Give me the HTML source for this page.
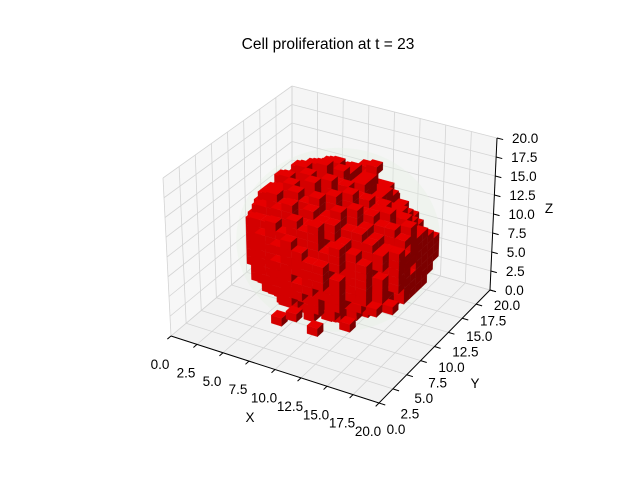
<!DOCTYPE html>
<html><head><meta charset="utf-8"><style>
body{margin:0;background:#fff}
svg{display:block}
text{font-family:"Liberation Sans","DejaVu Sans",sans-serif;fill:#000}
</style></head><body>
<svg id="chart" width="640" height="480" viewBox="0 0 640 480" xmlns="http://www.w3.org/2000/svg">
<rect width="640" height="480" fill="#fff"/>
<text x="328" y="49" text-anchor="middle" font-size="15.5">Cell proliferation at t = 23</text>
<g id="panes"></g>
<g id="cells"></g>
<g id="axes"></g>
</svg>
<script>
// tick values
const ticks = [0, 2.5, 5, 7.5, 10, 12.5, 15, 17.5, 20];
const tickLabels = ["0.0","2.5","5.0","7.5","10.0","12.5","15.0","17.5","20.0"];
// grid origin of the data arrays below
const gridX0 = 3;
const gridY0 = 3;
// top of each occupied (x,y) column (rows = y, cols = x); 0 = empty
const colTop = [
[0,0,0,0,0,13,14,13,12,12,0,0,0,0,0],
[0,0,0,13,15,14,16,15,16,13,14,0,0,0,0],
[0,0,14,15,16,17,15,17,16,16,14,13,12,0,0],
[0,13,15,17,16,18,17,18,16,17,15,15,14,13,0],
[0,14,16,17,18,17,19,17,18,16,17,15,15,14,13],
[12,15,16,18,17,19,17,19,17,18,16,16,15,15,14],
[13,15,17,17,19,18,19,18,18,17,17,16,16,14,15],
[13,14,16,18,17,19,18,19,17,18,16,16,15,15,14],
[12,15,16,17,18,17,19,18,17,18,16,15,15,14,13],
[0,14,15,17,16,18,17,18,17,16,16,14,14,13,12],
[0,12,15,15,17,16,17,16,17,15,15,14,13,0,11],
[0,0,13,15,15,16,15,17,15,15,13,12,0,0,0],
[0,0,0,12,14,14,15,14,14,13,0,0,0,0,0],
[0,0,0,0,0,12,13,12,0,0,0,0,0,0,0]];
// bottom of each column
const colBottom = [
[0,0,0,0,0,8,6,7,8,9,0,0,0,0,0],
[0,0,0,7,6,5,5,6,4,7,6,0,0,0,0],
[0,0,6,5,5,4,4,3,5,4,6,7,7,0,0],
[0,7,5,4,3,3,3,3,4,3,5,5,6,7,0],
[0,6,5,3,3,2,2,3,2,4,3,5,5,6,7],
[8,6,4,3,2,2,3,1,3,2,4,4,5,5,6],
[7,5,4,2,2,3,1,3,2,3,2,5,4,5,6],
[8,5,4,3,2,1,3,2,2,3,3,4,5,5,6],
[8,6,4,3,3,2,2,3,3,2,4,5,5,6,6],
[0,6,5,4,3,3,2,3,3,4,4,5,6,6,7],
[0,7,5,4,4,3,4,3,4,4,5,6,7,0,8],
[0,0,6,5,4,5,4,4,5,5,6,7,0,0,0],
[0,0,0,7,6,6,5,6,6,7,0,0,0,0,0],
[0,0,0,0,0,8,7,8,0,0,0,0,0,0,0]];
// internal holes (x,y,z) carved from the columns
const holes = [[6,5,14],[9,4,12],[12,5,13],[5,8,10],[8,6,8],[13,7,11],[11,9,6],[7,12,7],[14,10,9],[10,3,9],[4,10,6],[12,12,5],[15,8,7],[6,7,5],[13,4,10],[15,5,12],[16,9,11],[14,6,6],[16,11,8],[11,4,4],[15,7,14],[8,3,11],[12,3,7],[10,5,15],[17,9,9],[17,7,7],[16,6,10],[17,8,12],[17,10,13],[16,7,13]];
// isolated cells sticking out of the cluster
const extras = [[9,9,19],[12,12,18],[6,8,17],[10,2,5],[8,3,3],[14,4,4],[12,2,4],[17,6,6],[16,5,6]];

const SVGNS="http://www.w3.org/2000/svg";
const C={ "000":[171,336],"100":[379,403],"010":[292,234],"110":[490,290],
          "001":[163,178],"101":[381,241],"011":[292,86],"111":[497,138]};
function P(x,y,z){
  const u=x/20,v=y/20,w=z/20;let px=0,py=0;
  for(const a of [0,1])for(const b of [0,1])for(const c of [0,1]){
    const wt=(a?u:1-u)*(b?v:1-v)*(c?w:1-w);const p=C[""+a+b+c];px+=wt*p[0];py+=wt*p[1];}
  return [px,py];
}
function mk(tag,attrs,parent){const e=document.createElementNS(SVGNS,tag);for(const k in attrs)e.setAttribute(k,attrs[k]);parent.appendChild(e);return e;}
function poly(pts,fill,parent){return mk("polygon",{points:pts.map(p=>p.map(v=>v.toFixed(1)).join(",")).join(" "),fill:fill,stroke:fill,"stroke-width":0.3},parent);}
function line(a,b,stroke,w,parent){return mk("line",{x1:a[0],y1:a[1],x2:b[0],y2:b[1],stroke:stroke,"stroke-width":w},parent);}

const panes=document.getElementById("panes");
let e;
e=poly([P(0,0,0),P(20,0,0),P(20,20,0),P(0,20,0)],"#f2f2f2",panes);


e=poly([P(0,0,0),P(0,20,0),P(0,20,20),P(0,0,20)],"#f7f7f7",panes);


e=poly([P(0,20,0),P(20,20,0),P(20,20,20),P(0,20,20)],"#f5f5f5",panes);


const gc="#d4d4d4";
for(const t of ticks){
  e=line(P(t,0,0),P(t,20,0),gc,0.8,panes);
  e=line(P(0,t,0),P(20,t,0),gc,0.8,panes);
  e=line(P(0,t,0),P(0,t,20),gc,0.8,panes);
  e=line(P(0,0,t),P(0,20,t),gc,0.8,panes);
  e=line(P(t,20,0),P(t,20,20),gc,0.8,panes);
  e=line(P(0,20,t),P(20,20,t),gc,0.8,panes);
}
// faint green halo
const cen=P(10.5,10,10);
e=mk("ellipse",{cx:cen[0],cy:cen[1],rx:102,ry:92,fill:"#e4f2e1",opacity:0.35},panes);



// build voxel set
const occ=new Set();const key=(x,y,z)=>x+","+y+","+z;
for(let r=0;r<colTop.length;r++)for(let c=0;c<colTop[r].length;c++){
  const top=colTop[r][c],bot=colBottom[r][c];if(!top)continue;
  for(let z=bot;z<top;z++)occ.add(key(gridX0+c,gridY0+r,z));
}
for(const h of holes)occ.delete(key(h[0],h[1],h[2]));
for(const v of extras)occ.add(key(v[0],v[1],v[2]));
const vox=[...occ].map(s=>s.split(",").map(Number));
vox.sort((a,b)=>(a[0]*0.5-a[1]*0.87+a[2]*0.6)-(b[0]*0.5-b[1]*0.87+b[2]*0.6));
const cells=document.getElementById("cells");
for(const [x,y,z] of vox){
  const g=mk("g",{},cells);
  
  
  if(!occ.has(key(x,y-1,z))) poly([P(x,y,z),P(x+1,y,z),P(x+1,y,z+1),P(x,y,z+1)],"#d40000",g);
  if(!occ.has(key(x+1,y,z))) poly([P(x+1,y,z),P(x+1,y+1,z),P(x+1,y+1,z+1),P(x+1,y,z+1)],"#7c0000",g);
  if(!occ.has(key(x,y,z+1))) poly([P(x,y,z+1),P(x+1,y,z+1),P(x+1,y+1,z+1),P(x,y+1,z+1)],"#e60000",g);
}

// axes
const ax=document.getElementById("axes");
e=line(P(0,0,0),P(20,0,0),"#000",1,ax);
e=line(P(20,0,0),P(20,20,0),"#000",1,ax);
e=line(P(20,20,0),P(20,20,20),"#000",1,ax);
function txt(p,s,anchor,name){const t=mk("text",{x:p[0].toFixed(1),y:p[1].toFixed(1),"font-size":13.5,"text-anchor":anchor},ax);t.textContent=s;
  
  return t;}
ticks.forEach((t,i)=>{
  let a=P(t,0,0),b=P(t,-0.6,0);
  e=line(a,b,"#000",1,ax);
  txt([a[0]-11,a[1]+33],tickLabels[i],"middle","x-tick-label");
  a=P(20,t,0);b=P(20.6,t,0);
  e=line(a,b,"#000",1,ax);
  txt([a[0]+17,a[1]+31-0.55*t],tickLabels[i],"middle","y-tick-label");
  a=P(20,20,t);b=P(20.6,20,t);
  e=line(a,b,"#000",1,ax);
  txt([a[0]+15,a[1]+5],tickLabels[i],"start","z-tick-label");
});
txt([250,422],"X","middle","x-axis-title");
txt([475,388],"Y","middle","y-axis-title");
txt([549,213],"Z","middle","z-axis-title");
</script>
</body></html>
